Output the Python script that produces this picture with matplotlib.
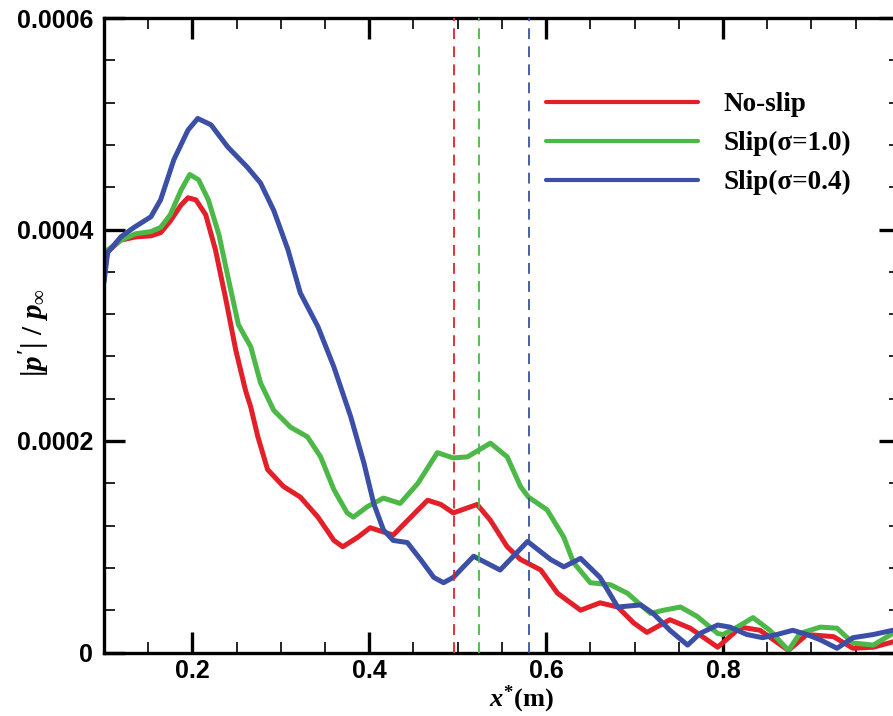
import numpy as np
import matplotlib
matplotlib.use("Agg")
import matplotlib.pyplot as plt
from matplotlib.ticker import MultipleLocator

plt.rcParams['mathtext.fontset'] = 'custom'
plt.rcParams['mathtext.it'] = 'Liberation Serif:italic:bold'
plt.rcParams['mathtext.rm'] = 'Liberation Serif:bold'
plt.rcParams['mathtext.bf'] = 'Liberation Serif:bold'

# values (x in m, amplitude in units of 1e-4)
x_noslip = [0.100, 0.104, 0.119, 0.136, 0.153, 0.164, 0.175, 0.187, 0.195, 0.204,
            0.215, 0.226, 0.238, 0.249, 0.260, 0.266, 0.274, 0.285, 0.303, 0.322,
            0.342, 0.360, 0.370, 0.387, 0.401, 0.416, 0.427, 0.447, 0.466, 0.481,
            0.495, 0.522, 0.537, 0.556, 0.571, 0.594, 0.613, 0.639, 0.661, 0.681,
            0.699, 0.714, 0.740, 0.763, 0.794, 0.820, 0.842, 0.874, 0.895, 0.925,
            0.947, 0.970, 0.992]
y_noslip = [3.55, 3.79, 3.90, 3.93, 3.94, 3.97, 4.08, 4.23, 4.30, 4.28,
            4.14, 3.81, 3.33, 2.86, 2.48, 2.32, 2.04, 1.73, 1.57, 1.47,
            1.28, 1.06, 1.00, 1.09, 1.18, 1.14, 1.11, 1.28, 1.44, 1.40,
            1.32, 1.40, 1.25, 1.00, 0.88, 0.78, 0.56, 0.40, 0.47, 0.43,
            0.28, 0.19, 0.31, 0.23, 0.05, 0.24, 0.21, 0.02, 0.17, 0.15,
            0.04, 0.05, 0.10]

x_slip10 = [0.100, 0.119, 0.136, 0.153, 0.164, 0.175, 0.187, 0.197, 0.207, 0.218,
            0.230, 0.241, 0.252, 0.266, 0.277, 0.292, 0.311, 0.330, 0.345, 0.360,
            0.375, 0.382, 0.398, 0.416, 0.435, 0.455, 0.477, 0.495, 0.511, 0.537,
            0.556, 0.571, 0.580, 0.601, 0.620, 0.631, 0.650, 0.673, 0.692, 0.707,
            0.718, 0.733, 0.752, 0.771, 0.794, 0.800, 0.816, 0.834, 0.853, 0.874,
            0.887, 0.910, 0.929, 0.947, 0.970, 0.992]
y_slip10 = [3.78, 3.90, 3.96, 3.98, 4.02, 4.14, 4.37, 4.52, 4.47, 4.28,
            3.95, 3.52, 3.10, 2.89, 2.55, 2.29, 2.13, 2.04, 1.85, 1.54,
            1.32, 1.28, 1.38, 1.46, 1.41, 1.60, 1.89, 1.84, 1.85, 1.98,
            1.85, 1.57, 1.47, 1.35, 1.09, 0.85, 0.66, 0.64, 0.56, 0.45,
            0.37, 0.40, 0.43, 0.34, 0.18, 0.17, 0.24, 0.33, 0.21, 0.02,
            0.18, 0.24, 0.23, 0.09, 0.07, 0.18]

x_slip04 = [0.100, 0.104, 0.119, 0.134, 0.153, 0.164, 0.179, 0.195, 0.206, 0.221,
            0.240, 0.262, 0.277, 0.292, 0.308, 0.322, 0.342, 0.360, 0.379, 0.394,
            0.405, 0.416, 0.427, 0.443, 0.458, 0.473, 0.484, 0.495, 0.518, 0.548,
            0.579, 0.605, 0.620, 0.639, 0.661, 0.681, 0.707, 0.721, 0.740, 0.760,
            0.774, 0.794, 0.808, 0.827, 0.845, 0.861, 0.879, 0.895, 0.910, 0.929,
            0.947, 0.970, 0.992]
y_slip04 = [3.50, 3.78, 3.93, 4.02, 4.12, 4.28, 4.66, 4.94, 5.05, 4.99,
            4.78, 4.59, 4.44, 4.18, 3.81, 3.40, 3.08, 2.70, 2.23, 1.79,
            1.41, 1.16, 1.06, 1.04, 0.88, 0.71, 0.66, 0.71, 0.91, 0.78,
            1.05, 0.88, 0.81, 0.89, 0.71, 0.43, 0.45, 0.37, 0.21, 0.07,
            0.18, 0.26, 0.24, 0.17, 0.14, 0.17, 0.21, 0.17, 0.12, 0.04,
            0.14, 0.17, 0.21]

labels = ['No-slip', 'Slip(σ=1.0)', 'Slip(σ=0.4)']
colors = ['#e3202a', '#4bb848', '#3b4fa6']
x_marks = [0.496, 0.524, 0.581]

fig = plt.figure(figsize=(8.93, 7.16), dpi=100)
ax = fig.add_axes([104 / 893, 63.5 / 716, 795.8 / 893, 634.5 / 716])

series = [(x_noslip, y_noslip), (x_slip10, y_slip10), (x_slip04, y_slip04)]
for (xs, ys), c, lab in zip(series, colors, labels):
    ax.plot(xs, np.array(ys) * 1e-4, color=c, lw=3.6, label=lab,
            solid_joinstyle='round', solid_capstyle='round')

for xm, c in zip(x_marks, colors):
    ax.axvline(xm, color=c, lw=1.3, ls=(0, (6, 4)), zorder=5)

ax.set_xlim(0.1, 1.0)
ax.set_ylim(0, 0.0006)
ax.xaxis.set_minor_locator(MultipleLocator(0.05))
ax.yaxis.set_minor_locator(MultipleLocator(0.00004))
ax.set_xticks([0.2, 0.4, 0.6, 0.8])
ax.set_xticklabels(['0.2', '0.4', '0.6', '0.8'])
ax.set_yticks([0, 0.0002, 0.0004, 0.0006])
ax.set_yticklabels(['0', '0.0002', '0.0004', '0.0006'])

ax.tick_params(which='both', direction='in', top=True, right=True)
ax.tick_params(which='major', length=15, width=2.4, pad=8)
ax.tick_params(axis='x', which='major', pad=5)
ax.tick_params(which='minor', length=8, width=1.2)
for t in ax.get_xticklabels() + ax.get_yticklabels():
    t.set_fontfamily('Liberation Sans')
    t.set_fontweight('bold')
    t.set_fontsize(18)
for s in ax.spines.values():
    s.set_linewidth(2.4)

fig.text(521 / 893, 1 - 699 / 716, r'$x^{*}\mathrm{(m)}$', fontsize=19,
         ha='center', va='center')
fig.text(35 / 893, 1 - 333 / 716, r'$|p^{\prime}|\ /\ p_{\infty}$', fontsize=21,
         ha='center', va='center', rotation=90)

leg = ax.legend(loc='upper left', bbox_to_anchor=(546 / 893, 1 - 92 / 716),
                bbox_transform=fig.transFigure, frameon=False, handlelength=5.6,
                handletextpad=0.95, labelspacing=0.52, borderpad=0, borderaxespad=0,
                prop={'family': 'Liberation Serif', 'weight': 'bold', 'size': 19.5})
for h in leg.get_lines():
    h.set_linewidth(3.0)

fig.savefig('out.png', dpi=100)
